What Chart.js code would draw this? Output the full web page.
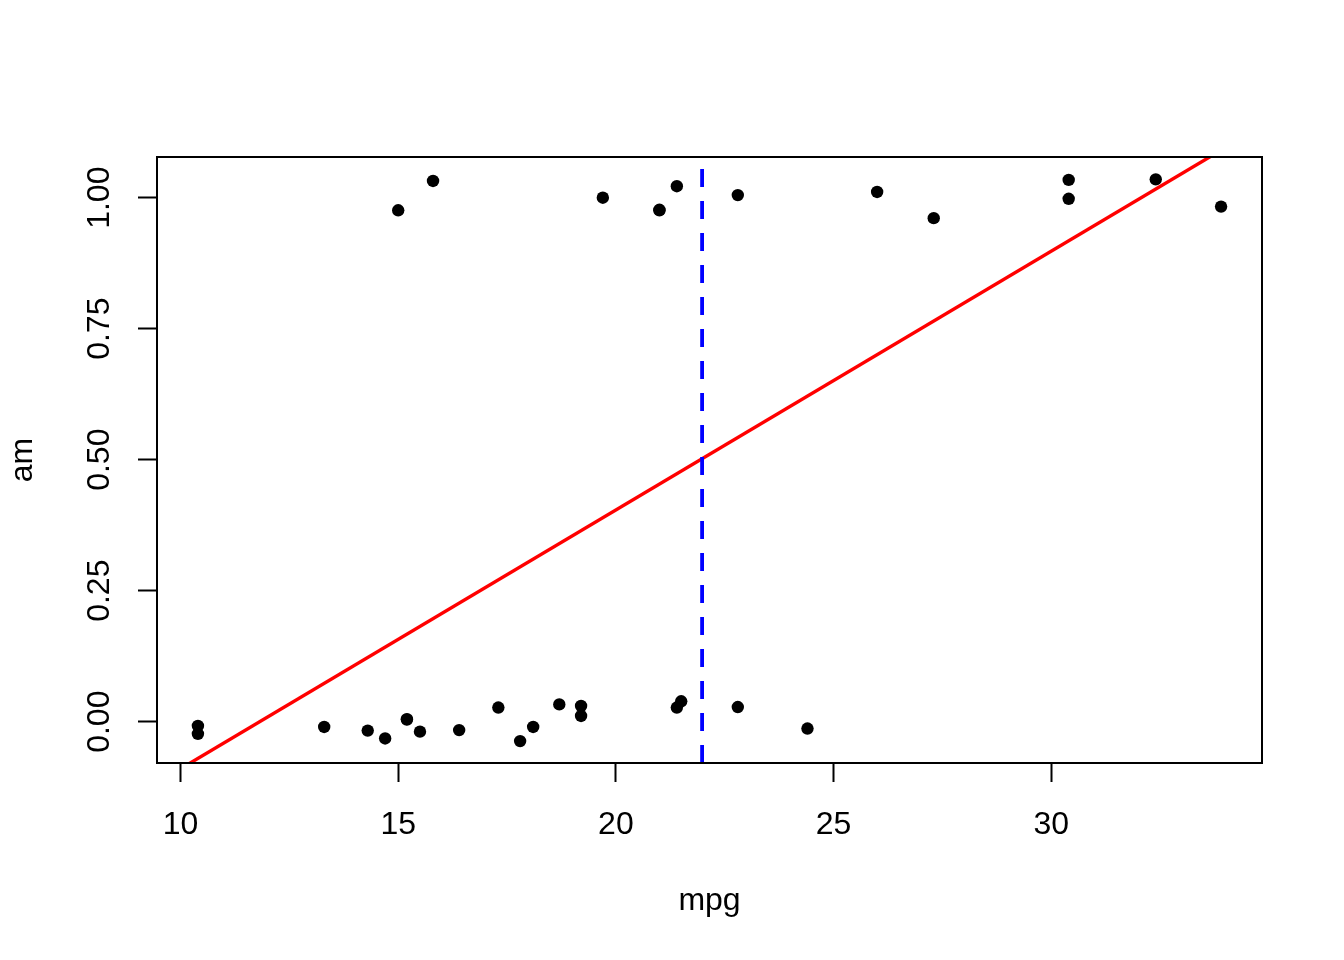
<!DOCTYPE html>
<html lang="en">
<head>
  <meta charset="UTF-8">
  <title>mpg vs am</title>
  <script src="https://cdn.jsdelivr.net/npm/chart.js"></script>
  <style>
    html, body { margin: 0; padding: 0; background: #fff; }
    #wrap { width: 1344px; height: 960px; }
  </style>
</head>
<body>
  <div id="wrap"><canvas id="amChart" width="1344" height="960"></canvas></div>
  <script>
    // mtcars mpg and jittered am
    const mpg = [21.0, 21.0, 22.8, 21.4, 18.7, 18.1, 14.3, 24.4, 22.8, 19.2, 17.8,
                 16.4, 17.3, 15.2, 10.4, 10.4, 14.7, 32.4, 30.4, 33.9, 21.5, 15.5,
                 15.2, 13.3, 19.2, 27.3, 26.0, 30.4, 15.8, 19.7, 15.0, 21.4];
    const amJitter = [0.977, 0.976, 1.005, 0.027, 0.033, -0.010, -0.017, -0.013, 0.028, 0.030, -0.037,
                      -0.016, 0.027, 0.004, -0.008, -0.023, -0.032, 1.035, 1.034, 0.983, 0.039, -0.019,
                      0.005, -0.010, 0.011, 0.961, 1.011, 0.998, 1.032, 1.000, 0.976, 1.022];

    // fitted line and the 0.5 cut-off
    const fitIntercept = -0.5837;
    const fitSlope = 0.04939;
    const cutoffMpg = 21.98;

    const xTicks = [10, 15, 20, 25, 30];
    const yTicks = [0, 0.25, 0.5, 0.75, 1];
    const xRange = [9.46, 34.84];
    const yRange = [-0.0788, 1.0777];

    const points = mpg.map((m, i) => ({ x: m, y: amJitter[i] }));
    const fitLine = xRange.map(x => ({ x: x, y: fitIntercept + fitSlope * x }));
    const cutLine = yRange.map(y => ({ x: cutoffMpg, y: y }));

    const font = { family: "'Liberation Sans', Arial, Helvetica, sans-serif", size: 32 };

    // draws the box round the plot region
    const boxPlugin = {
      id: 'box',
      afterDraw(chart) {
        const a = chart.chartArea;
        const ctx = chart.ctx;
        ctx.save();
        ctx.strokeStyle = '#000';
        ctx.lineWidth = 2;
        ctx.strokeRect(a.left, a.top, a.right - a.left, a.bottom - a.top);
        ctx.restore();
      }
    };

    new Chart(document.getElementById('amChart'), {
      type: 'scatter',
      data: {
        datasets: [
          {
            data: points,
            backgroundColor: '#000',
            borderWidth: 0,
            pointRadius: 6.2,
            pointHoverRadius: 6.2,
            order: 3
          },
          {
            data: fitLine,
            showLine: true,
            borderColor: '#ff0000',
            borderWidth: 3.4,
            pointRadius: 0,
            order: 2
          },
          {
            data: cutLine,
            showLine: true,
            borderColor: '#0000ff',
            borderWidth: 3.8,
            borderDash: [18, 14],
            pointRadius: 0,
            order: 1
          }
        ]
      },
      options: {
        responsive: false,
        animation: false,
        devicePixelRatio: 1,
        layout: { padding: { left: 0, top: 157, right: 82, bottom: 0 } },
        plugins: { legend: { display: false }, tooltip: { enabled: false } },
        scales: {
          x: {
            type: 'linear',
            min: xRange[0],
            max: xRange[1],
            afterBuildTicks: s => { s.ticks = xTicks.map(v => ({ value: v })); },
            afterFit: s => { s.height = 197; },
            grid: { drawOnChartArea: false, tickLength: 19, tickWidth: 2, tickColor: '#000' },
            border: { display: true, color: '#000', width: 2 },
            ticks: { color: '#000', font: font, padding: 24, maxRotation: 0, autoSkip: false },
            title: { display: true, text: 'mpg', color: '#000', font: font, padding: { top: 0, bottom: 40 } }
          },
          y: {
            type: 'linear',
            min: yRange[0],
            max: yRange[1],
            afterBuildTicks: s => { s.ticks = yTicks.map(v => ({ value: v })); },
            afterFit: s => { s.width = 157; },
            grid: { drawOnChartArea: false, tickLength: 19, tickWidth: 2, tickColor: '#000' },
            border: { display: true, color: '#000', width: 2 },
            ticks: {
              color: '#000', font: font, padding: 7, autoSkip: false,
              minRotation: 90, maxRotation: 90, crossAlign: 'center',
              callback: v => v.toFixed(2)
            },
            title: { display: true, text: 'am', color: '#000', font: font, padding: { top: 4, bottom: 0 } }
          }
        }
      },
      plugins: [boxPlugin]
    });
  </script>
</body>
</html>
